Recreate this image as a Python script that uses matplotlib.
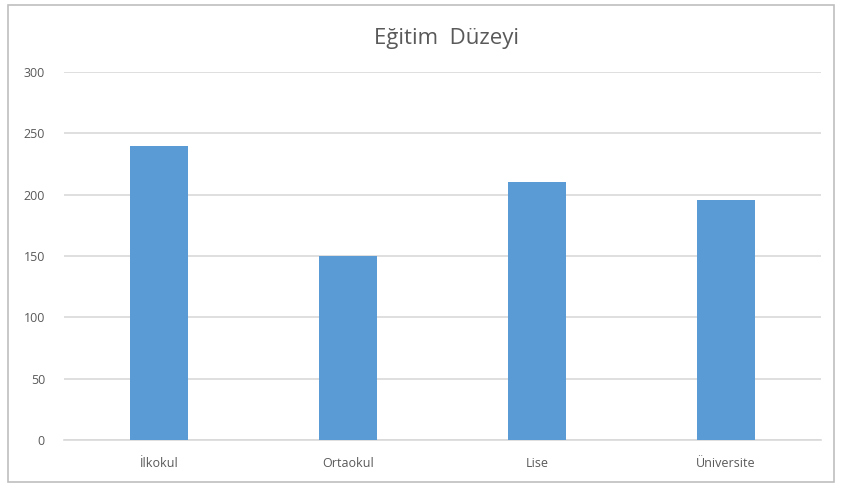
# Eğitim Düzeyi bar chart
import matplotlib
matplotlib.use("Agg")
import matplotlib.pyplot as plt
from matplotlib.patches import Rectangle

# -----------------------------
#  Data
# -----------------------------
categories = ["İlkokul", "Ortaokul", "Lise", "Üniversite"]
values = [240, 150, 210, 196]
y_ticks = [0, 50, 100, 150, 200, 250, 300]

text_color = "#595959"
bar_color = "#5b9bd5"
grid_color = "#d9d9d9"

plt.rcParams['font.family'] = ['Open Sans', 'DejaVu Sans']

fig = plt.figure(figsize=(8.42, 4.88), dpi=100)
ax = fig.add_axes([0.0765, 0.0984, 0.898, 0.7541])

x = range(len(categories))
ax.bar(x, values, width=0.31, color=bar_color, zorder=3)

ax.set_xlim(-0.5, len(categories) - 0.5)
ax.set_ylim(0, 300)
ax.set_yticks(y_ticks)
ax.set_xticks(list(x))
ax.set_xticklabels(categories)

ax.yaxis.grid(True, color=grid_color, linewidth=1.2, zorder=0)
for side in ["top", "right", "left"]:
    ax.spines[side].set_visible(False)
ax.spines["bottom"].set_color(grid_color)
ax.spines["bottom"].set_linewidth(1.2)

ax.tick_params(axis="both", length=0, labelsize=9, labelcolor=text_color)
ax.tick_params(axis="y", pad=14)
ax.tick_params(axis="x", pad=12)

fig.text(0.53, 0.922, "Eğitim  Düzeyi", ha="center", va="center",
         fontsize=16, color=text_color)

# outer chart border
fig.patches.append(Rectangle((0.009, 0.012), 0.982, 0.977, transform=fig.transFigure,
                             fill=False, edgecolor="#bfbfbf", linewidth=1.2))

fig.savefig("out.png", dpi=100)
